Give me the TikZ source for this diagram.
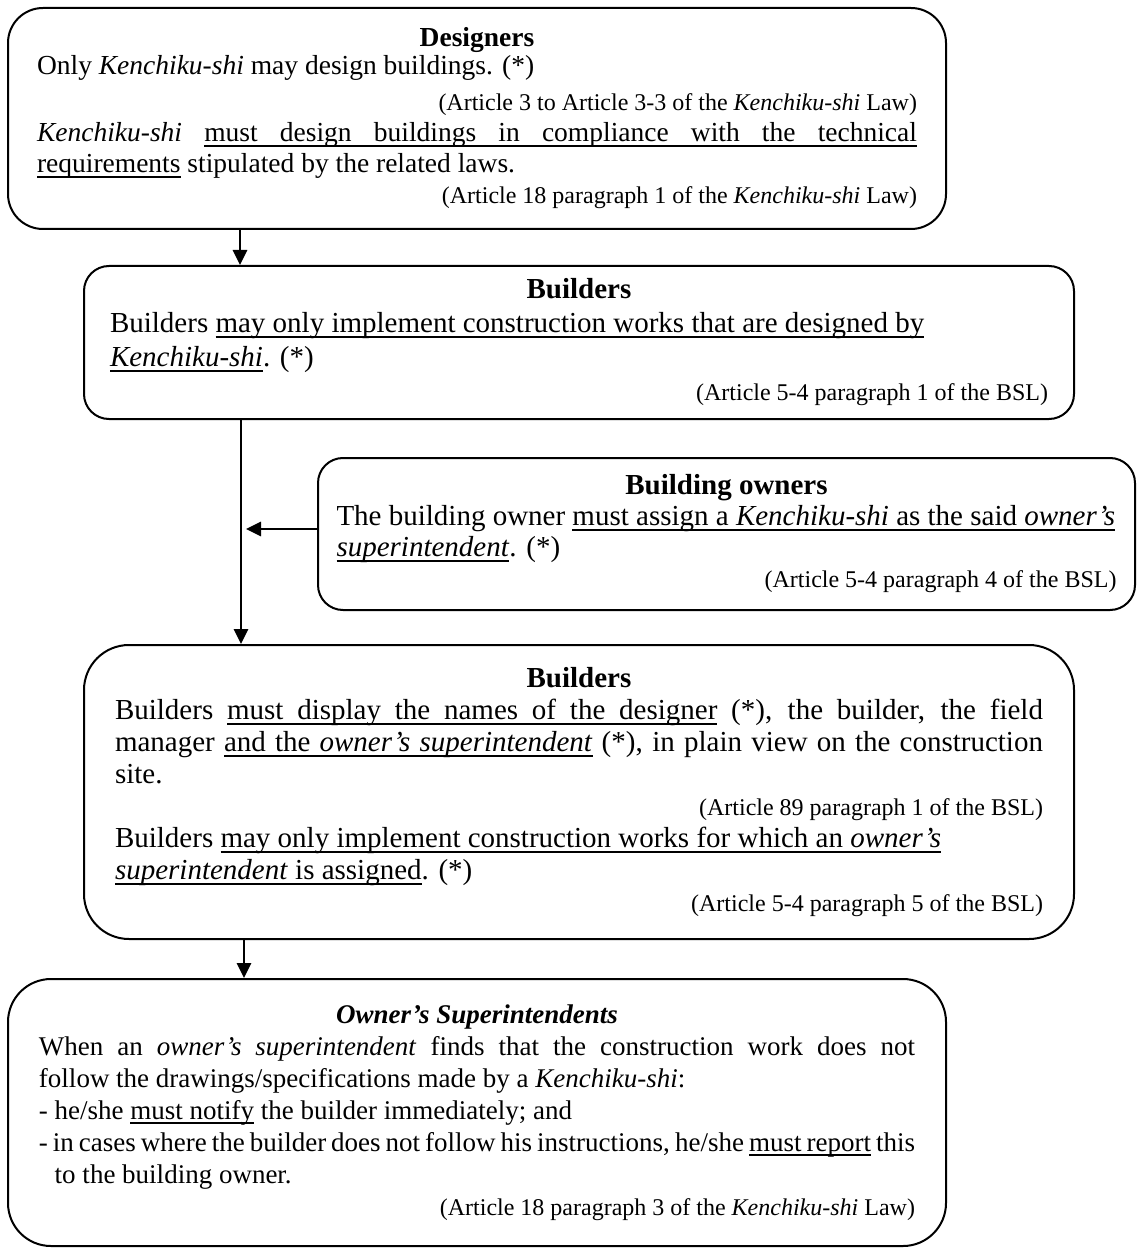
\documentclass[tikz,border=0pt]{standalone}
\usepackage{fontspec}
\setmainfont{Liberation Serif}
\usetikzlibrary{arrows.meta}
\newcommand{\citefont}{\fontsize{12pt}{15pt}\selectfont}
% home-made underline whose spaces stretch with justification
\newcommand{\ulw}[1]{\setbox0\hbox{#1}\rlap{\vrule width \wd0 height -0.11em depth 0.175em}\box0\relax}
\newcommand{\uls}{\leaders\hrule height -0.11em depth 0.175em\hskip\fontdimen2\font plus\fontdimen3\font minus\fontdimen4\font\relax}
\def\ulA#1 #2\ulend{\ulw{#1}\ifx\relax#2\relax\else\uls\ulA#2\ulend\fi}
\newcommand{\ul}[1]{\ulA#1 \ulend}
\begin{document}
\begin{tikzpicture}[x=0.5pt,y=-0.5pt,
  box/.style={draw, line width=1pt, inner sep=0pt, align=left},
  arr/.style={line width=1.35pt, -{Triangle[length=7.5pt,width=7pt]}},
]
\useasboundingbox (0,0) rectangle (1137,1251);

% Designers
\node[box, rounded corners=17.5pt, minimum width=469pt, minimum height=110.5pt,
      font=\fontsize{13.75pt}{15.5pt}\selectfont] (b1) at (477,118.5) {%
\makebox[440pt][c]{\textbf{Designers}}\\[-1.5pt]
\makebox[440pt][l]{Only \textit{Kenchiku-shi} may design buildings. (*)}\\[2.5pt]
\makebox[440pt][r]{\citefont (Article 3 to Article 3-3 of the \textit{Kenchiku-shi} Law)}\\
\makebox[440pt][s]{\textit{Kenchiku-shi} \ul{must design buildings in compliance with the technical}}\\
\makebox[440pt][l]{\ul{requirements} stipulated by the related laws.}\\
\makebox[440pt][r]{\citefont (Article 18 paragraph 1 of the \textit{Kenchiku-shi} Law)}};

% Builders (1)
\node[box, rounded corners=12.5pt, minimum width=495pt, minimum height=76.5pt,
      font=\fontsize{14.5pt}{17pt}\selectfont] (b2) at (579,342.5) {%
\makebox[469pt][c]{\textbf{Builders}}\\
\makebox[469pt][l]{Builders \ul{may only implement construction works that are designed by}}\\
\makebox[469pt][l]{\ul{\textit{Kenchiku-shi}}. (*)}\\
\makebox[469pt][r]{\citefont (Article 5-4 paragraph 1 of the BSL)}};

% Building owners
\node[box, rounded corners=12.5pt, minimum width=408.5pt, minimum height=76pt,
      font=\fontsize{14.5pt}{15.5pt}\selectfont] (b3) at (726.5,534) {%
\makebox[390pt][c]{\textbf{Building owners}}\\
\makebox[390pt][l]{The building owner \ul{must assign a \textit{Kenchiku-shi} as the said \textit{owner’s}}}\\
\makebox[390pt][l]{\ul{\textit{superintendent}}. (*)}\\
\makebox[390pt][r]{\citefont (Article 5-4 paragraph 4 of the BSL)}};

% Builders (2)
\node[box, rounded corners=22.5pt, minimum width=495pt, minimum height=147pt,
      font=\fontsize{14.5pt}{16pt}\selectfont] (b4) at (579,792) {%
\makebox[464pt][c]{\textbf{Builders}}\\
\makebox[464pt][s]{Builders \ul{must display the names of the designer} (*), the builder, the field}\\
\makebox[464pt][s]{manager \ul{and the \textit{owner’s} \textit{superintendent}} (*), in plain view on the construction}\\
\makebox[464pt][l]{site.}\\
\makebox[464pt][r]{\citefont (Article 89 paragraph 1 of the BSL)}\\
\makebox[464pt][l]{Builders \ul{may only implement construction works for which an \textit{owner’s}}}\\
\makebox[464pt][l]{\ul{\textit{superintendent} is assigned}. (*)}\\
\makebox[464pt][r]{\citefont (Article 5-4 paragraph 5 of the BSL)}};

% Owner's Superintendents
\node[box, rounded corners=21.5pt, minimum width=469pt, minimum height=133.5pt,
      font=\fontsize{13.5pt}{16pt}\selectfont] (b5) at (477,1112.5) {%
\makebox[438pt][c]{\textbf{\textit{Owner’s Superintendents}}}\\
\makebox[438pt][s]{When an \textit{owner’s} \textit{superintendent} finds that the construction work does not}\\
\makebox[438pt][l]{follow the drawings/specifications made by a \textit{Kenchiku-shi}:}\\
\makebox[438pt][l]{- he/she \ul{must notify} the builder immediately; and}\\
\makebox[438pt][s]{- in cases where the builder does not follow his instructions, he/she \ul{must report} this}\\
\makebox[438pt][l]{\phantom{- }to the building owner.}\\
\makebox[438pt][r]{\citefont (Article 18 paragraph 3 of the \textit{Kenchiku-shi} Law)}};

% connectors
\coordinate (xa) at (240,0);
\coordinate (xb) at (241,0);
\coordinate (xc) at (244,0);
\coordinate (h3) at (246,529);
\draw[arr] (b1.south -| xa) -- (b2.north -| xa);
\draw[arr] (b2.south -| xb) -- (b4.north -| xb);
\draw[arr] (b3.west |- h3) -- (h3);
\draw[arr] (b4.south -| xc) -- (b5.north -| xc);
\end{tikzpicture}
\end{document}
